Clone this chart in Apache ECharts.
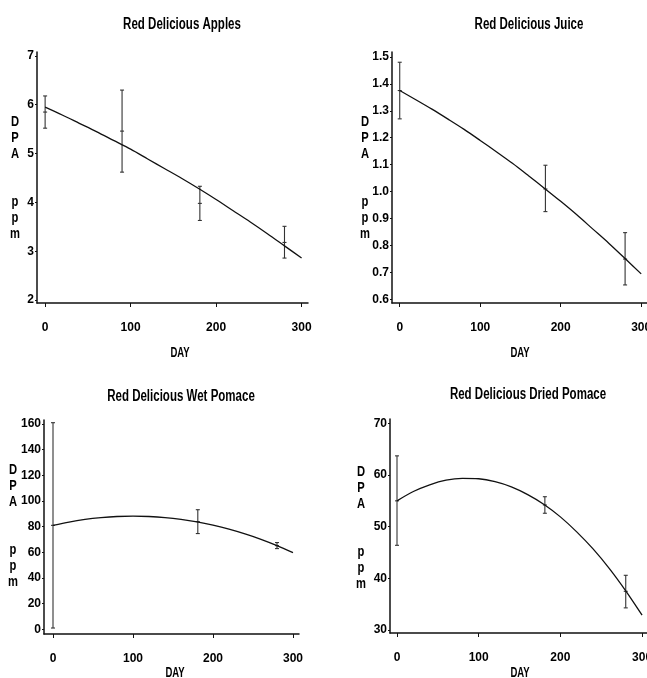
<!DOCTYPE html>
<html>
<head>
<meta charset="utf-8">
<script src="https://cdn.jsdelivr.net/npm/echarts@6/dist/echarts.min.js"></script>
<style>
html,body{margin:0;padding:0;background:#fff;}
#c{width:647px;height:678px;}
</style>
</head>
<body>
<div id="c"></div>
<script>
// ---- Data ----
const titles = ['Red Delicious Apples', 'Red Delicious Juice', 'Red Delicious Wet Pomace', 'Red Delicious Dried Pomace'];
const xTicks = [0, 100, 200, 300];
const yTicksApples = [2, 3, 4, 5, 6, 7];
const yTicksJuice = [0.6, 0.7, 0.8, 0.9, 1.0, 1.1, 1.2, 1.3, 1.4, 1.5];
const yTicksWet = [0, 20, 40, 60, 80, 100, 120, 140, 160];
const yTicksDried = [30, 40, 50, 60, 70];

const applesDays = [0, 90, 181, 280];
const applesMean = [5.85, 5.46, 3.98, 3.18];
const applesLow  = [5.52, 4.62, 3.63, 2.86];
const applesHigh = [6.18, 6.30, 4.33, 3.51];

const juiceDays = [0, 181, 280];
const juiceMean = [1.375, 1.01, 0.75];
const juiceLow  = [1.27, 0.926, 0.654];
const juiceHigh = [1.48, 1.098, 0.848];

const wetDays = [0, 181, 280];
const wetMean = [81, 83.9, 65.2];
const wetLow  = [1, 74.6, 62.9];
const wetHigh = [161, 93.2, 67.6];

const driedDays = [0, 181, 280];
const driedMean = [55.0, 54.2, 37.5];
const driedLow  = [46.4, 52.6, 34.3];
const driedHigh = [63.7, 55.8, 40.6];

// fitted curves
const fitDays   = [0, 20, 40, 60, 80, 100, 120, 140, 160, 180, 200, 220, 240, 260, 280, 300];
const applesFit = [5.95, 5.79, 5.62, 5.45, 5.27, 5.09, 4.89, 4.69, 4.49, 4.28, 4.06, 3.83, 3.60, 3.36, 3.11, 2.86];
const juiceFit  = [1.375, 1.341, 1.306, 1.269, 1.231, 1.190, 1.148, 1.105, 1.059, 1.012, 0.964, 0.914, 0.861, 0.808, 0.752, 0.695];
const wetFit    = [81, 83.6, 85.6, 87.0, 87.9, 88.2, 87.9, 87.1, 85.7, 83.7, 81.1, 78.0, 74.3, 70.1, 65.2, 59.8];
const driedFit  = [55, 56.8, 58.1, 59.0, 59.35, 59.27, 58.7, 57.7, 56.2, 54.3, 51.9, 49.0, 45.7, 41.9, 37.6, 32.9];

// ---- Chart ----
const FONT = "'Liberation Sans', Arial, sans-serif";
const INK = '#111';

const panels = [
  {grid:{left:37, top:52, width:271, height:251}, x:[-9.5, 307.5], y:[1.94, 7.08], yt:yTicksApples, fmt:v=>String(v),
   days:applesDays, mean:applesMean, low:applesLow, high:applesHigh, fit:applesFit,
   title:[182,25], day:[180,353], dpa:[15,178]},
  {grid:{left:392, top:52, width:257, height:251}, x:[-9.6, 309.7], y:[0.587, 1.518], yt:yTicksJuice, fmt:v=>v.toFixed(1),
   days:juiceDays, mean:juiceMean, low:juiceLow, high:juiceHigh, fit:juiceFit,
   title:[529,25], day:[520,353], dpa:[365,178]},
  {grid:{left:44, top:420, width:255, height:214}, x:[-11.25, 307.5], y:[-3.66, 163.1], yt:yTicksWet, fmt:v=>String(v),
   days:wetDays, mean:wetMean, low:wetLow, high:wetHigh, fit:wetFit,
   title:[181,397], day:[175,673], dpa:[13,526]},
  {grid:{left:390, top:419, width:260, height:214}, x:[-8.57, 309.7], y:[29.44, 70.83], yt:yTicksDried, fmt:v=>String(v),
   days:driedDays, mean:driedMean, low:driedLow, high:driedHigh, fit:driedFit,
   title:[528,395], day:[520,673], dpa:[361,528]}
];

const grid = [], xAxis = [], yAxis = [], series = [], graphic = [];
panels.forEach((p, i) => {
  grid.push(Object.assign({outerBoundsMode:'none', containLabel:false}, p.grid));
  xAxis.push({
    type:'value', gridIndex:i, min:p.x[0], max:p.x[1],
    axisLine:{show:true, onZero:false, lineStyle:{color:INK, width:1.5}},
    axisTick:{show:true, length:4, inside:false, customValues:xTicks, lineStyle:{color:INK}},
    axisLabel:{customValues:xTicks, margin:19, color:'#000', fontFamily:FONT, fontWeight:'bold', fontSize:12, hideOverlap:false},
    splitLine:{show:false}
  });
  yAxis.push({
    type:'value', gridIndex:i, min:p.y[0], max:p.y[1],
    axisLine:{show:true, onZero:false, lineStyle:{color:INK, width:1.5}},
    axisTick:{show:true, length:2, customValues:p.yt, lineStyle:{color:INK}},
    axisLabel:{customValues:p.yt, margin:3, formatter:p.fmt, color:'#000', fontFamily:FONT, fontWeight:'bold', fontSize:12, hideOverlap:false},
    splitLine:{show:false}
  });
  series.push({
    type:'line', xAxisIndex:i, yAxisIndex:i, smooth:0.3, showSymbol:false, silent:true,
    lineStyle:{color:INK, width:1.3},
    data: fitDays.map((d, k) => [d, p.fit[k]])
  });
  series.push({
    type:'custom', xAxisIndex:i, yAxisIndex:i, silent:true,
    data: p.days.map((d, k) => [d, p.low[k], p.high[k], p.mean[k]]),
    renderItem: function(params, api){
      const x = api.value(0);
      const lo = api.coord([x, api.value(1)]);
      const hi = api.coord([x, api.value(2)]);
      const mn = api.coord([x, api.value(3)]);
      const st = {stroke:'#333', lineWidth:1.1};
      const w = 2;
      return {type:'group', children:[
        {type:'line', shape:{x1:lo[0], y1:lo[1], x2:hi[0], y2:hi[1]}, style:st},
        {type:'line', shape:{x1:lo[0]-w, y1:lo[1], x2:lo[0]+w, y2:lo[1]}, style:st},
        {type:'line', shape:{x1:hi[0]-w, y1:hi[1], x2:hi[0]+w, y2:hi[1]}, style:st},
        {type:'line', shape:{x1:mn[0]-w, y1:mn[1], x2:mn[0]+w, y2:mn[1]}, style:st}
      ]};
    }
  });
  graphic.push({type:'text', x:p.title[0], y:p.title[1], scaleX:0.72,
    style:{text:titles[i], fill:'#000', font:'bold 16px ' + FONT, textAlign:'center', textVerticalAlign:'middle'}});
  graphic.push({type:'text', x:p.day[0], y:p.day[1], scaleX:0.68,
    style:{text:'DAY', fill:'#000', font:'bold 14px ' + FONT, textAlign:'center', textVerticalAlign:'middle'}});
  graphic.push({type:'text', x:p.dpa[0], y:p.dpa[1], scaleX:0.8,
    style:{text:'D\nP\nA\n\n\np\np\nm', fill:'#000', font:'bold 14px ' + FONT, lineHeight:16, textAlign:'center', textVerticalAlign:'middle'}});
});

const chart = echarts.init(document.getElementById('c'), null, {renderer:'canvas'});
chart.setOption({backgroundColor:'#fff', animation:false, grid, xAxis, yAxis, series, graphic});
</script>
</body>
</html>
